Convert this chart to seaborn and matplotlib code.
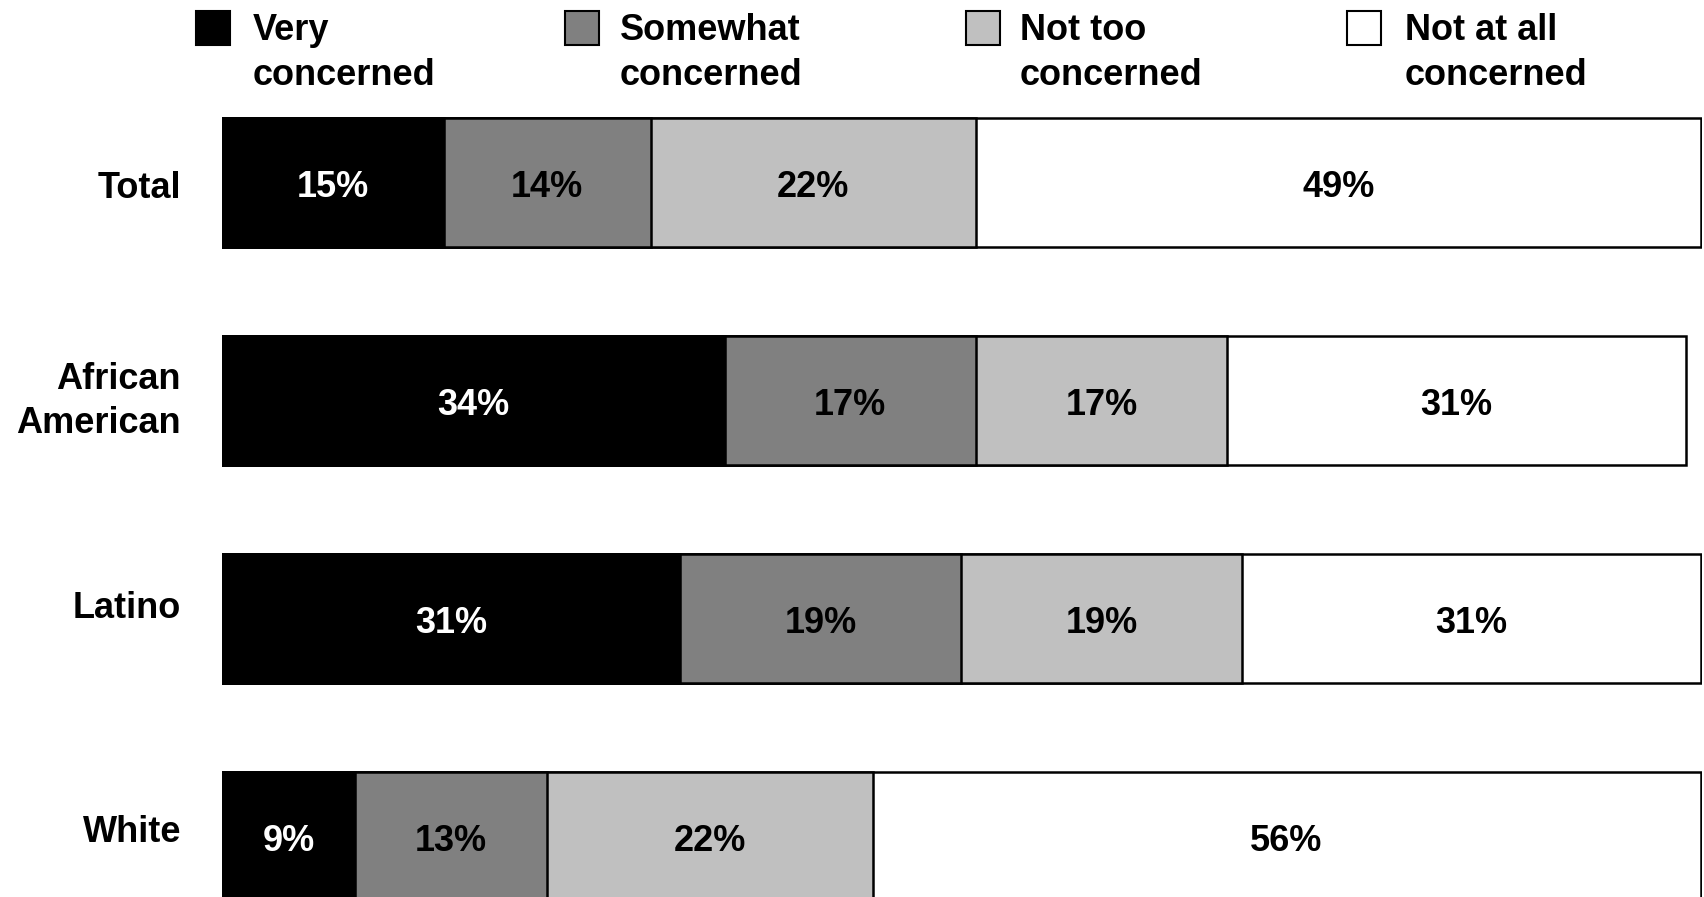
import numpy as np
import pandas as pd
import matplotlib
matplotlib.use("Agg")
import matplotlib.pyplot as plt
import matplotlib.transforms as mtrans
import seaborn as sns
from matplotlib.patches import Rectangle

groups = ["Total", "African\nAmerican", "Latino", "White"]
levels = ["Very\nconcerned", "Somewhat\nconcerned", "Not too\nconcerned", "Not at all\nconcerned"]
very = [15, 34, 31, 9]
somewhat = [14, 17, 19, 13]
not_too = [22, 17, 19, 22]
not_at_all = [49, 31, 31, 56]
colors = ["#000000", "#808080", "#C0C0C0", "#FFFFFF"]
text_colors = ["white", "black", "black", "black"]
# vertical nudge (pixels, downward) of each row's name
name_nudge = [5.5, 1, -10.5, -4]

sns.set_theme(style="white")
plt.rcParams["font.family"] = ["Liberation Sans", "DejaVu Sans"]
plt.rcParams["font.weight"] = "bold"
plt.rcParams["text.color"] = "black"

W, H = 1704, 897
fig = plt.figure(figsize=(W / 100, H / 100), dpi=100)
ax = fig.add_axes([222 / W, 0, 1480 / W, 1])

series = [very, somewhat, not_too, not_at_all]
cum = np.cumsum(series, axis=0)

# Stacked bars: draw cumulative totals from the outermost segment inwards
for k in range(3, -1, -1):
    df = pd.DataFrame({"group": groups, "value": cum[k]})
    sns.barplot(data=df, x="value", y="group", order=groups, orient="h",
                color=colors[k], saturation=1, edgecolor="black",
                linewidth=1.8, width=0.59, ax=ax)

px = 1 / 100  # one pixel in inches
down = mtrans.ScaledTranslation(0, -5 * px, fig.dpi_scale_trans)

# Percentage labels centred in each segment
for k in range(4):
    for i in range(len(groups)):
        val = series[k][i]
        center = cum[k][i] - val / 2
        ax.text(center, i, f"{val}%", ha="center", va="center",
                fontsize=26, fontweight="bold", color=text_colors[k],
                transform=ax.transData + down)

ax.set_xlim(0, 100.1)
ax.set_ylim(3.277, -0.838)
for s in ax.spines.values():
    s.set_visible(False)
ax.set_xticks([])
ax.set_yticks([])
ax.set_xlabel("")
ax.set_ylabel("")

# Row names to the left of the bars
name_tr = mtrans.blended_transform_factory(fig.transFigure, ax.transData)
for i, name in enumerate(groups):
    off = mtrans.ScaledTranslation(0, -name_nudge[i] * px, fig.dpi_scale_trans)
    fig.text(181 / W, i, name, ha="right", va="center", multialignment="right",
             fontsize=26, fontweight="bold", color="black", linespacing=1.34,
             transform=name_tr + off)

# Legend across the top
box_x = [196, 565, 966, 1347]
text_x = [253, 620, 1020, 1405]
for k in range(4):
    fig.add_artist(Rectangle((box_x[k] / W, 1 - 45 / H), 34 / W, 34 / H,
                             transform=fig.transFigure, facecolor=colors[k],
                             edgecolor="black", linewidth=1.5))
    fig.text(text_x[k] / W, 1 - 53 / H, levels[k], ha="left", va="center",
             fontsize=26, fontweight="bold", linespacing=1.34, color="black")

fig.savefig("out.png", dpi=100)
